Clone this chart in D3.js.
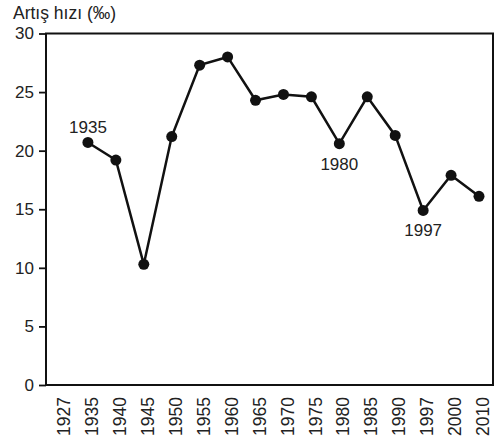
<!DOCTYPE html>
<meta charset="utf-8">
<title>Artış hızı</title>
<style>
body { margin: 0; background: #fff; }
text { font-family: "Liberation Sans", Arial, sans-serif; fill: #222; }
.axis .domain { display: none; }
</style>
<svg width="495" height="443"></svg>
<script src="https://d3js.org/d3.v7.min.js"></script>
<script>
// tick labels on x (1927 has no point)
var years = ["1927","1935","1940","1945","1950","1955","1960","1965","1970","1975","1980","1985","1990","1997","2000","2010"];
// growth rate per mille
var pointYears = ["1935","1940","1945","1950","1955","1960","1965","1970","1975","1980","1985","1990","1997","2000","2010"];
var rates = [20.7, 19.2, 10.3, 21.2, 27.3, 28.0, 24.3, 24.8, 24.6, 20.6, 24.6, 21.3, 14.9, 17.9, 16.1];
var yTicks = [0, 5, 10, 15, 20, 25, 30];
var annotated = {"1935": "above", "1980": "below", "1997": "below"};

var svg = d3.select("svg"),
    plotLeft = 46, plotRight = 493, plotTop = 33.5, plotBottom = 385;

var x = d3.scalePoint().domain(years).range([60, 479]);
var y = d3.scaleLinear().domain([0, 30]).range([plotBottom, plotTop]);

var data = pointYears.map(function(d, i) { return {year: d, v: rates[i]}; });

// frame
svg.append("rect")
  .attr("x", plotLeft).attr("y", plotTop)
  .attr("width", plotRight - plotLeft).attr("height", plotBottom - plotTop)
  .attr("fill", "none").attr("stroke", "#111").attr("stroke-width", 2);

// y axis
var yAxis = svg.append("g")
  .attr("class", "axis")
  .attr("transform", "translate(" + plotLeft + ",0)")
  .call(d3.axisLeft(y).tickValues(yTicks).tickSize(7).tickPadding(5));
yAxis.selectAll("line").attr("stroke", "#111").attr("stroke-width", 1.8);
yAxis.selectAll("text").style("font-size", "17px").attr("fill", "#222");

// x labels (rotated)
svg.append("g")
  .selectAll("text")
  .data(years)
  .enter().append("text")
  .attr("transform", function(d) { return "translate(" + (x(d) + 4) + ",397) rotate(-90)"; })
  .attr("text-anchor", "end")
  .attr("dy", "0.35em")
  .style("font-size", "17.5px")
  .text(function(d) { return d; });

// line
svg.append("path")
  .datum(data)
  .attr("fill", "none")
  .attr("stroke", "#111")
  .attr("stroke-width", 2.5)
  .attr("d", d3.line().x(function(d) { return x(d.year); }).y(function(d) { return y(d.v); }));

svg.append("g")
  .selectAll("circle")
  .data(data)
  .enter().append("circle")
  .attr("cx", function(d) { return x(d.year); })
  .attr("cy", function(d) { return y(d.v); })
  .attr("r", 5.5)
  .attr("fill", "#111");

// year annotations
svg.append("g")
  .selectAll("text")
  .data(data.filter(function(d) { return annotated[d.year]; }))
  .enter().append("text")
  .attr("x", function(d) { return x(d.year); })
  .attr("y", function(d) { return y(d.v) + (annotated[d.year] == "above" ? -9 : 26); })
  .attr("text-anchor", "middle")
  .style("font-size", "17px")
  .text(function(d) { return d.year; });

// axis title
svg.append("text")
  .attr("x", 13)
  .attr("y", 19)
  .style("font-size", "17.5px")
  .text("Artış hızı (‰)");
</script>
